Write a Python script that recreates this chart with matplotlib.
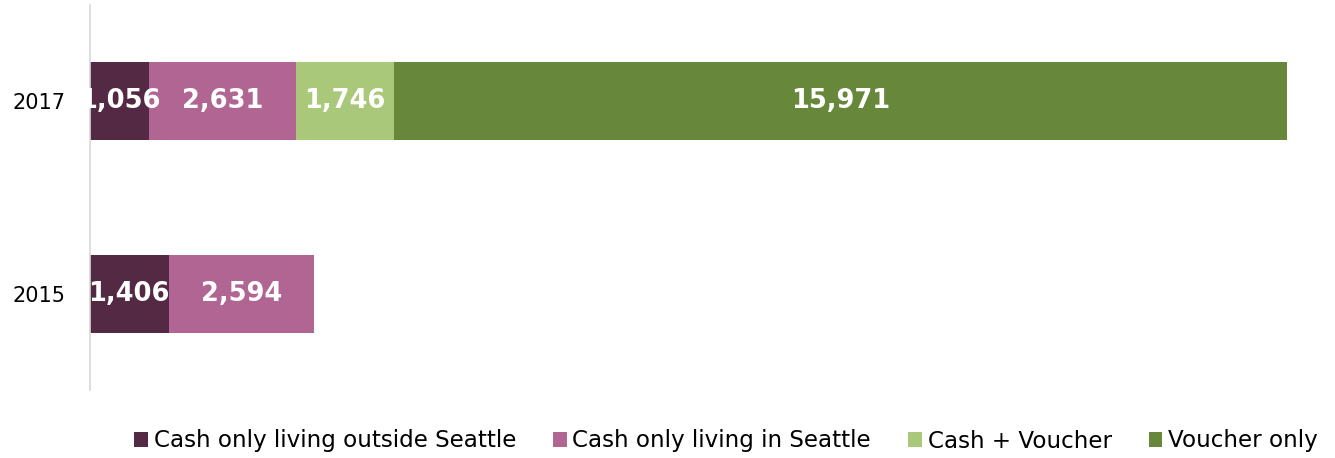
import numpy as np
import matplotlib
matplotlib.use('Agg')
import matplotlib.pyplot as plt

years = ['2015', '2017']
series = ['Cash only living outside Seattle', 'Cash only living in Seattle',
          'Cash + Voucher', 'Voucher only']
values = {
    'Cash only living outside Seattle': [1406, 1056],
    'Cash only living in Seattle': [2594, 2631],
    'Cash + Voucher': [0, 1746],
    'Voucher only': [0, 15971],
}
colors = ['#532944', '#b16592', '#a9c879', '#67873a']

plt.rcParams['font.family'] = ['DejaVu Sans']

fig = plt.figure(figsize=(13.35, 4.58), dpi=100)
ax = fig.add_axes([90 / 1335, 68 / 458, 1230.5 / 1335, 385 / 458])

y = np.arange(len(years))
left = np.zeros(len(years))
for name, c in zip(series, colors):
    v = np.array(values[name], dtype=float)
    ax.barh(y, v, left=left, height=0.404, color=c, label=name)
    for yi, (l, w) in enumerate(zip(left, v)):
        if w > 0:
            ax.text(l + w / 2, yi, f'{int(w):,}', ha='center', va='center',
                    color='white', fontsize=18.5, fontweight='bold')
    left += v

ax.set_xlim(0, 22000)
ax.set_ylim(-0.5, 1.5)
ax.set_yticks(y)
ax.set_yticklabels(years, fontsize=15)
ax.tick_params(axis='y', length=0, pad=18)
ax.set_xticks([])
for s in ['top', 'right', 'bottom']:
    ax.spines[s].set_visible(False)
ax.spines['left'].set_color('#d9d9d9')
ax.spines['left'].set_linewidth(1.2)

fig.legend(loc='center', bbox_to_anchor=(726 / 1335, 1 - 441 / 458), ncol=4,
           frameon=False, fontsize=16.6, handlelength=0.6, handleheight=0.6,
           handletextpad=0.25, columnspacing=1.6)

fig.savefig('out.png', dpi=100)
